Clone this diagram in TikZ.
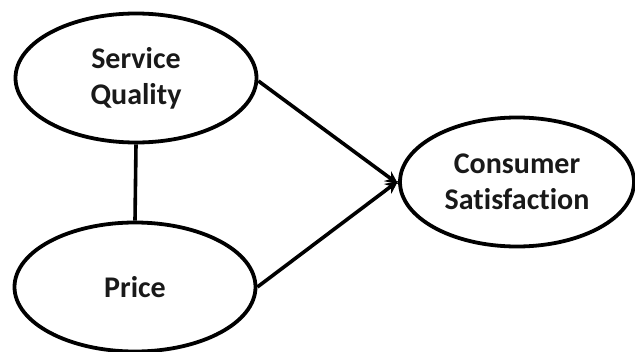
\documentclass[tikz,border=0pt]{standalone}
\usepackage{fontspec}
\setmainfont{Carlito}[Ligatures={NoCommon}]
\usetikzlibrary{shapes.geometric,arrows.meta}
\begin{document}
\begin{tikzpicture}[x=1pt,y=-1pt,
  var/.style={draw=black,ellipse,line width=3.8pt,inner sep=0pt,
    font=\fontsize{30}{36}\selectfont\bfseries,align=center,text=black!90},
  conn/.style={line width=3.6pt,draw=black}]
\useasboundingbox (0,0) rectangle (635,351);
\node[var,minimum width=241,minimum height=129] (sq) at (136,78) {Service\\Quality};
\node[var,minimum width=241,minimum height=129] (pr) at (135,287) {Price};
\node[var,minimum width=234,minimum height=129] (cs) at (517,182) {Consumer\\Satisfaction};
\draw[conn] (sq.south) -- (pr.north);
\draw[conn,-{Stealth[length=13pt,width=12pt]}] (sq.east) ++(0,3) -- ([yshift=-2pt]cs.west);
\draw[conn,-{Stealth[length=13pt,width=12pt]}] (pr.east) -- ([yshift=1pt]cs.west);
\end{tikzpicture}
\end{document}
